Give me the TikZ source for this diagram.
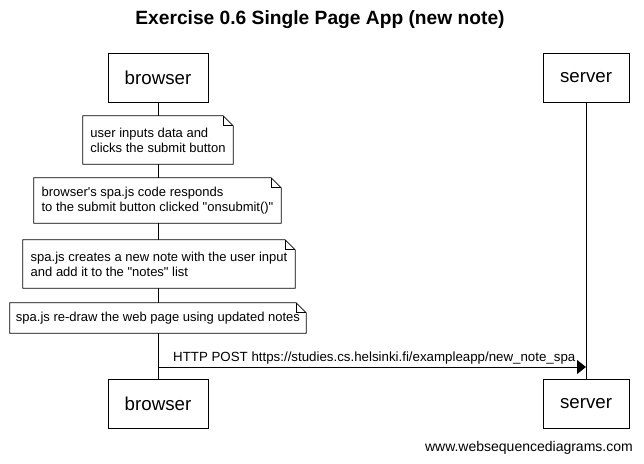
\documentclass[tikz,border=0pt]{standalone}
\usepackage{fontspec}
\setmainfont{Liberation Sans}[Ligatures=TeXOff]
\usetikzlibrary{arrows.meta}
\begin{document}
\begin{tikzpicture}[x=1pt,y=-1pt,
  actor/.style={draw=black, line width=1pt, fill=white, inner sep=0pt,
    font=\fontsize{18.7}{22}\selectfont},
  notebox/.style={fill=white, inner sep=0pt, align=left,
    font=\fontsize{13}{15}\selectfont},
  noteline/.style={draw=black, line width=0.8pt},
  lifeline/.style={draw=black, line width=1pt},
  msg/.style={draw=black, line width=1pt, -{Triangle[length=9pt,width=14pt]}},
  msglabel/.style={font=\fontsize{13.3}{15}\selectfont, inner sep=0pt},
  footer/.style={font=\fontsize{14}{16}\selectfont, inner sep=0pt}
]
\useasboundingbox (0,0) rectangle (644,463);

% title
\node[font=\fontsize{19.2}{22}\selectfont\bfseries] (title) at (320,20)
  {Exercise 0.6 Single Page App (new note)};

% participants, top and bottom
\node[actor, minimum width=100pt, minimum height=49pt] (btop) at (158,77.5) {browser};
\node[actor, minimum width=86pt, minimum height=49pt] (stop) at (586,77.5) {server};
\node[actor, minimum width=100pt, minimum height=49pt] (bbot) at (158,403.5) {browser};
\node[actor, minimum width=86pt, minimum height=49pt] (sbot) at (586,403.5) {server};

% lifelines
\draw[lifeline] (btop.south) -- (bbot.north);
\draw[lifeline] (stop.south) -- (sbot.north);

% notes over the browser
\node[notebox, minimum width=150pt, minimum height=48pt] (n1) at (158,140)
  {user inputs data and\\clicks the submit button};
\node[notebox, minimum width=247pt, minimum height=45pt] (n2) at (157.5,200.5)
  {browser's spa.js code responds\\to the submit button clicked "onsubmit()"};
\node[notebox, minimum width=272pt, minimum height=48pt] (n3) at (159,264)
  {spa.js creates a new note with the user input\\and add it to the "notes" list};
\node[notebox, minimum width=296pt, minimum height=30pt] (n4) at (158,318)
  {spa.js re-draw the web page using updated notes};

% dog-eared outlines of the notes
\foreach \n in {n1,n2,n3,n4}{
  \draw[noteline] (\n.north west) -- ([xshift=-10pt]\n.north east)
    -- ([yshift=-10pt]\n.north east) -- (\n.south east) -- (\n.south west) -- cycle;
  \draw[noteline] ([xshift=-10pt]\n.north east) -- ([xshift=-10pt,yshift=-10pt]\n.north east)
    -- ([yshift=-10pt]\n.north east);
}

% message
\coordinate (bmsg) at (btop.south |- 0,367);
\coordinate (smsg) at (stop.south |- 0,367);
\draw[msg] (bmsg) -- (smsg);
\node[msglabel, anchor=base west] (m1) at (173,361)
  {HTTP POST https://studies.cs.helsinki.fi/exampleapp/new\_note\_spa};

% footer
\node[footer, anchor=base east] (wm) at (633,451) {www.websequencediagrams.com};
\end{tikzpicture}
\end{document}
